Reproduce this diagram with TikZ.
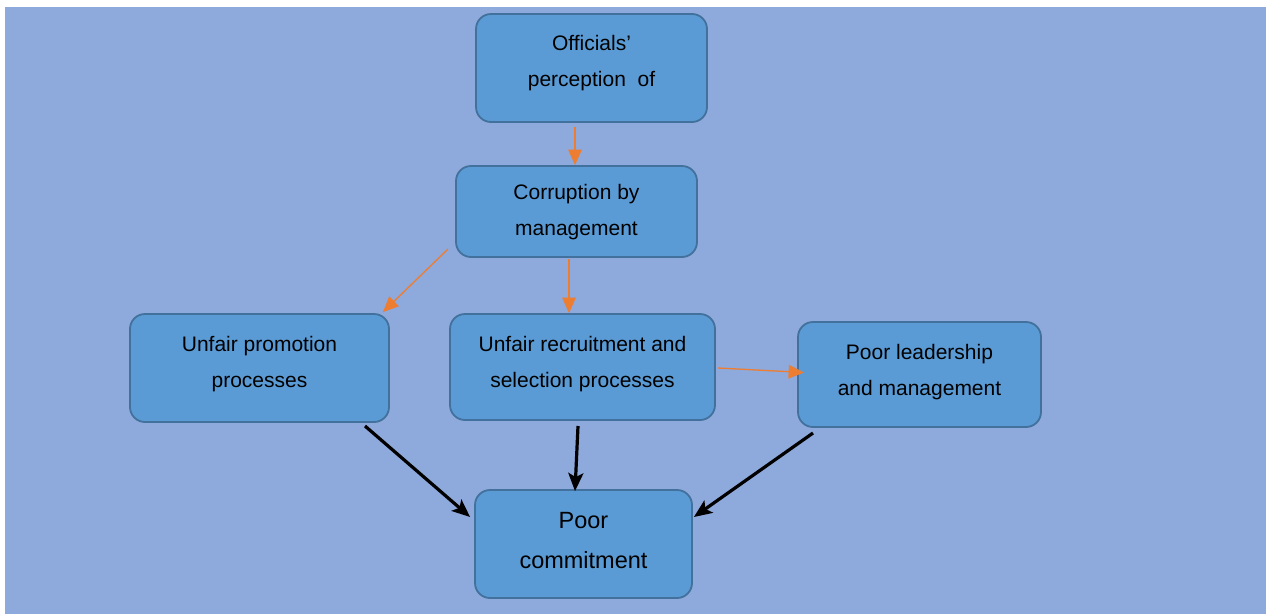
\documentclass[tikz,border=0pt]{standalone}
\usepackage{fontspec}
\setmainfont{Liberation Sans}
\usetikzlibrary{arrows.meta,calc}
\definecolor{panel}{HTML}{8EA9DB}
\definecolor{boxfill}{HTML}{5B9BD5}
\definecolor{boxline}{HTML}{41719C}
\definecolor{flow}{HTML}{ED7D31}
% invisible rule fixing the height/depth of a text line (height, depth in pt)
\newcommand\linestrut[2]{\rule[-#2pt]{0pt}{#1pt}}

\begin{document}
\begin{tikzpicture}[x=1pt,y=-1pt,
  stage/.style={draw=boxline, fill=boxfill, line width=1.8pt,
    rounded corners=15pt, inner sep=0pt, align=center,
    font=\fontsize{21}{36}\selectfont, text=black},
  flowarrow/.style={draw=flow, line width=1.3pt,
    -{Triangle[length=15.5pt,width=13.5pt]}},
  mainarrow/.style={draw=black, line width=3.2pt,
    -{Stealth[length=18pt,width=15pt,inset=4pt]}}]

\useasboundingbox (0,0) rectangle (1269,614);
\fill[white] (0,0) rectangle (1269,614);
\fill[panel] (4.5,6.5) rectangle (1266,614);

% boxes
\node[stage, minimum width=231pt, minimum height=108pt] (b1) at (591.5,68)
  {\linestrut{15.5}{14}Officials’\\\linestrut{15.5}{14}perception\ \ of};
\node[stage, minimum width=241pt, minimum height=91pt] (b2) at (576.5,211.5)
  {\linestrut{24}{5.6}Corruption by\\\linestrut{24}{5.6}management};
\node[stage, minimum width=259pt, minimum height=108pt] (b3) at (259.5,368)
  {\linestrut{15.5}{12}Unfair promotion\\\linestrut{15.5}{12}processes};
\node[stage, minimum width=265pt, minimum height=106pt] (b4) at (582.5,367)
  {\linestrut{15.5}{10}Unfair recruitment and\\\linestrut{15.5}{10}selection processes};
\node[stage, minimum width=243pt, minimum height=105pt] (b5) at (919.5,374.5)
  {\linestrut{15.5}{8.5}Poor leadership\\\linestrut{15.5}{8.5}and management};
\node[stage, minimum width=217pt, minimum height=108pt,
  font=\fontsize{23.5}{40}\selectfont] (b6) at (583.5,544)
  {\linestrut{17.5}{7.5}Poor\\\linestrut{17.5}{7.5}commitment};

% tails of the connectors
\coordinate (o1s) at (575,127);
\coordinate (o2s) at (448,249);
\coordinate (o3s) at (569,259);
\coordinate (o4s) at (718,368);
\coordinate (k1s) at (365,426);
\coordinate (k2s) at (578,426);
\coordinate (k3s) at (813,433);

% orange links
\draw[flowarrow] (o1s) -- (o1s |- b2.north);
\draw[flowarrow] (o2s) -- ($(b3.north east)+(-7,-1)$);
\draw[flowarrow] (o3s) -- (o3s |- b4.north);
\draw[flowarrow] (o4s) -- ($(b5.west)+(7,-2)$);

% black links into the outcome
\draw[mainarrow] (k1s) -- ($(b6.west)+(-4,-27)$);
\draw[mainarrow] (k2s) -- ($(b6.north)+(-8.5,2)$);
\draw[mainarrow] (k3s) -- ($(b6.east)+(1,-27)$);
\end{tikzpicture}
\end{document}
